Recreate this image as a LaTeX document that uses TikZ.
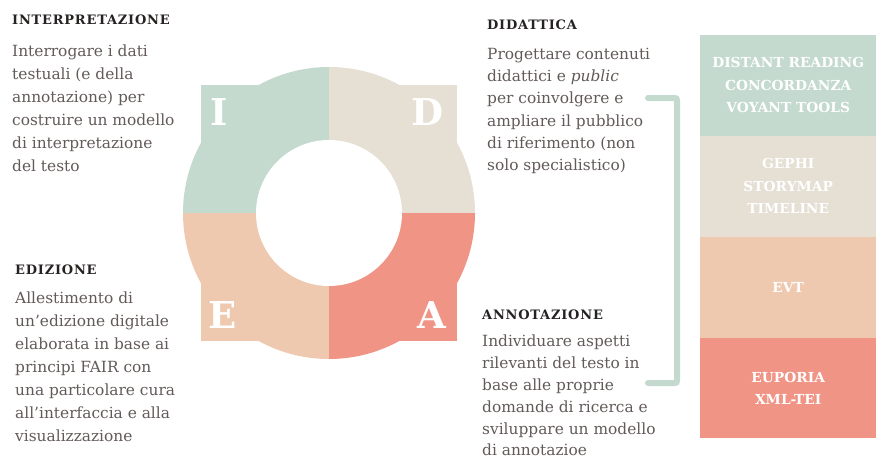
\documentclass[tikz,border=0pt]{standalone}
\usepackage{fontspec}
\setmainfont{DejaVu Serif}
\newfontfamily\headfont[LetterSpace=6]{DejaVu Serif}
\usetikzlibrary{positioning}
\definecolor{ideaI}{RGB}{196,218,206}
\definecolor{ideaD}{RGB}{229,223,212}
\definecolor{ideaE}{RGB}{238,201,176}
\definecolor{ideaA}{RGB}{240,148,134}
\definecolor{bodygrey}{RGB}{98,90,88}
\definecolor{headdark}{RGB}{38,34,34}

\begin{document}
\begin{tikzpicture}[x=1pt,y=-1pt,node distance=0pt,
    head/.style={anchor=north west,inner sep=0pt,text=headdark,font=\headfont\bfseries\fontsize{13}{16}\selectfont},
    body/.style={anchor=north west,inner sep=0pt,align=left,text=bodygrey,font=\fontsize{15.4}{23}\selectfont},
    letter/.style={text=white,inner sep=0pt,font=\bfseries\fontsize{37}{37}\selectfont},
    tool/.style={minimum width=176pt,minimum height=100.5pt,inner sep=0pt,align=center,text=white,font=\bfseries\fontsize{13.8}{22.5}\selectfont},
    bracket/.style={draw=ideaI,line width=6pt,line cap=round,rounded corners=2pt}]
    \useasboundingbox (0,0) rectangle (876,461);
    \coordinate (ring) at (329,213);
    \foreach \col/\sx/\sy in {ideaI/-1/-1, ideaD/1/-1, ideaE/-1/1, ideaA/1/1} {
      \begin{scope}
        \clip (ring) rectangle ++(150*\sx,150*\sy);
        \fill[\col] (ring) circle (146pt);
        \fill[\col] (ring) rectangle ++(128*\sx,128*\sy);
      \end{scope}
    }
    \fill[white] (ring) circle (73pt);
    \node[letter] (I) at (219,112) {I};
    \node[letter] (D) at (428,112) {D};
    \node[letter] (E) at (223,315) {E};
    \node[letter] (A) at (432,315) {A};

    \node[head] (interpH) at (12,15) {INTERPRETAZIONE};
    \node[body] (interp) at (12,45) {Interrogare i dati\\testuali (e della\\annotazione) per\\costruire un modello\\di interpretazione\\del testo};
    \node[head] (edizH) at (15,265) {EDIZIONE};
    \node[body] (ediz) at (15,292) {Allestimento di\\un\char39 edizione digitale\\elaborata in base ai\\principi FAIR con\\una particolare cura\\all\char39 interfaccia e alla\\visualizzazione};
    \node[head] (didH) at (487,20) {DIDATTICA};
    \node[body,font=\fontsize{15.4}{22.2}\selectfont] (did) at (487,48) {Progettare contenuti\\didattici e \textit{public}\\per coinvolgere e\\ampliare il pubblico\\di riferimento (non\\solo specialistico)};
    \node[head] (annH) at (482,310) {ANNOTAZIONE};
    \node[body,font=\fontsize{15.4}{21.8}\selectfont] (ann) at (482,335) {Individuare aspetti\\rilevanti del testo in\\base alle proprie\\domande di ricerca e\\sviluppare un modello\\di annotazioe};

    \coordinate (btop) at (648,98);
    \coordinate (bcorner) at (677,383);
    \coordinate (bbot) at (648,383);
    \draw[bracket] (btop) -| (bcorner) -- (bbot);

    \node[tool,fill=ideaI,anchor=north west] (reading) at (700,35) {DISTANT READING\\CONCORDANZA\\VOYANT TOOLS};
    \node[tool,fill=ideaD,below=of reading] (gephi) {GEPHI\\STORYMAP\\TIMELINE};
    \node[tool,fill=ideaE,below=of gephi] (evt) {EVT};
    \node[tool,fill=ideaA,below=of evt] (euporia) {EUPORIA\\XML-TEI};
  \end{tikzpicture}
\end{document}
